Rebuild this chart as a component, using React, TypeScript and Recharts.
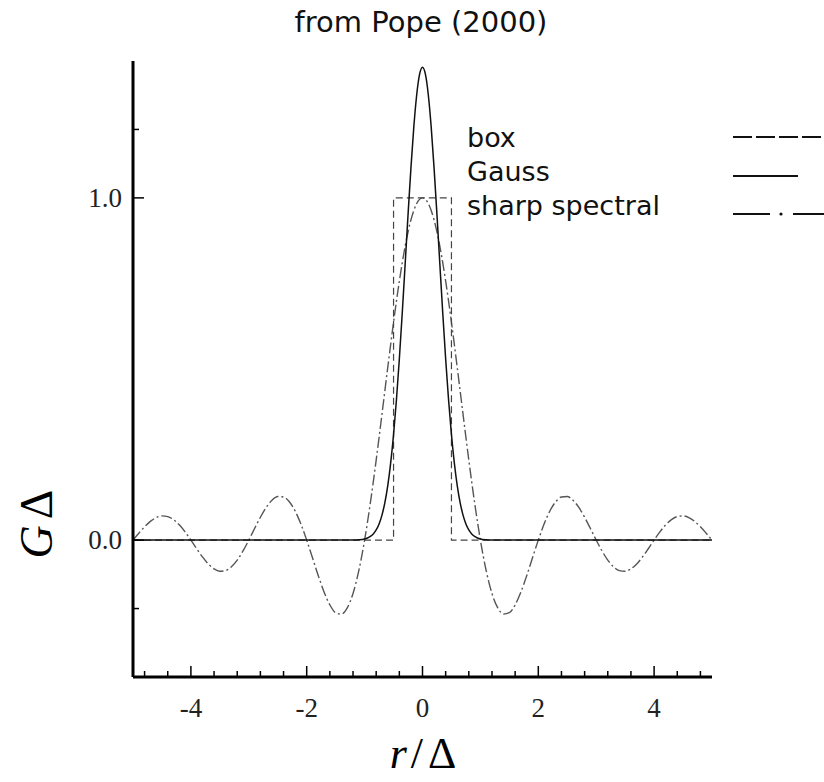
import React from "react";
import { LineChart, Line, XAxis, YAxis } from "recharts";

const titleText = "from Pope (2000)";
const legendLabels = ["box", "Gauss", "sharp spectral"];

const xTicks = [-4.8, -4.4, -4, -3.6, -3.2, -2.8, -2.4, -2, -1.6, -1.2, -0.8, -0.4, 0, 0.4, 0.8, 1.2, 1.6, 2, 2.4, 2.8, 3.2, 3.6, 4, 4.4, 4.8];
const xMajor = [-4, -2, 0, 2, 4];
const yTicks = [-0.2, 0, 1, 1.2];
const yMajor = [0, 1];

// box filter
const boxX = [-5, -0.5, -0.5, 0.5, 0.5, 5];
const boxY = [0, 0, 1, 1, 0, 0];

// Gaussian filter
const gaussX = [-5, -1.2, -1.1, -1.0, -0.95, -0.9, -0.85, -0.8, -0.75, -0.7, -0.65, -0.6, -0.55, -0.5, -0.45, -0.4, -0.35, -0.3, -0.25, -0.2, -0.15, -0.1, -0.05, 0,
  0.05, 0.1, 0.15, 0.2, 0.25, 0.3, 0.35, 0.4, 0.45, 0.5, 0.55, 0.6, 0.65, 0.7, 0.75, 0.8, 0.85, 0.9, 0.95, 1.0, 1.1, 1.2, 5];
const gaussY = [0, 0.0002, 0.001, 0.0034, 0.0062, 0.0107, 0.0181, 0.0297, 0.0473, 0.0731, 0.1096, 0.1594, 0.225, 0.3084, 0.41, 0.5292, 0.6627, 0.8054, 0.9498, 1.0871, 1.2075, 1.3015, 1.3614, 1.382,
  1.3614, 1.3015, 1.2075, 1.0871, 0.9498, 0.8054, 0.6627, 0.5292, 0.41, 0.3084, 0.225, 0.1594, 0.1096, 0.0731, 0.0473, 0.0297, 0.0181, 0.0107, 0.0062, 0.0034, 0.001, 0.0002, 0];

// sharp spectral filter
const sharpX = [-5, -4.9, -4.8, -4.7, -4.6, -4.5, -4.4, -4.3, -4.2, -4.1, -4, -3.9, -3.8, -3.7, -3.6, -3.5, -3.4, -3.3, -3.2, -3.1, -3, -2.9, -2.8, -2.7, -2.6, -2.5, -2.4, -2.3, -2.2, -2.1, -2, -1.9, -1.8, -1.7, -1.6, -1.5, -1.4, -1.3, -1.2, -1.1, -1, -0.9, -0.8, -0.7, -0.6, -0.5, -0.4, -0.3, -0.2, -0.1, 0,
  0.1, 0.2, 0.3, 0.4, 0.5, 0.6, 0.7, 0.8, 0.9, 1, 1.1, 1.2, 1.3, 1.4, 1.5, 1.6, 1.7, 1.8, 1.9, 2, 2.1, 2.2, 2.3, 2.4, 2.5, 2.6, 2.7, 2.8, 2.9, 3, 3.1, 3.2, 3.3, 3.4, 3.5, 3.6, 3.7, 3.8, 3.9, 4, 4.1, 4.2, 4.3, 4.4, 4.5, 4.6, 4.7, 4.8, 4.9, 5];
const sharpY = [0, 0.0201, 0.039, 0.0548, 0.0658, 0.0707, 0.0688, 0.0599, 0.0446, 0.024, 0, -0.0252, -0.0492, -0.0696, -0.0841, -0.0909, -0.089, -0.078, -0.0585, -0.0317, 0, 0.0339, 0.0668, 0.0954, 0.1164, 0.1273, 0.1261, 0.112, 0.0851, 0.0468, 0, -0.0518, -0.1039, -0.1515, -0.1892, -0.2122, -0.2162, -0.1981, -0.1559, -0.0894, 0, 0.1093, 0.2339, 0.3679, 0.5046, 0.6366, 0.7568, 0.8584, 0.9355, 0.9836, 1,
  0.9836, 0.9355, 0.8584, 0.7568, 0.6366, 0.5046, 0.3679, 0.2339, 0.1093, 0, -0.0894, -0.1559, -0.1981, -0.2162, -0.2122, -0.1892, -0.1515, -0.1039, -0.0518, 0, 0.0468, 0.0851, 0.112, 0.1261, 0.1273, 0.1164, 0.0954, 0.0668, 0.0339, 0, -0.0317, -0.0585, -0.078, -0.089, -0.0909, -0.0841, -0.0696, -0.0492, -0.0252, 0, 0.024, 0.0446, 0.0599, 0.0688, 0.0707, 0.0658, 0.0548, 0.039, 0.0201, 0];

const zip = (xs: number[], ys: number[]) => xs.map((x, i) => ({ x, y: ys[i] }));
const boxData = zip(boxX, boxY);
const gaussData = zip(gaussX, gaussY);
const sharpData = zip(sharpX, sharpY);

const serif = "'Liberation Serif', 'Times New Roman', serif";
const sans = "'DejaVu Sans', sans-serif";

const isMajor = (v: number, list: number[]) => list.some((m) => Math.abs(m - v) < 1e-6);

const XTick = (props: any) => {
  const { x, y, payload } = props;
  const major = isMajor(payload.value, xMajor);
  return (
    <g>
      <line x1={x} y1={y} x2={x} y2={y - (major ? 11 : 6)} stroke="#000" strokeWidth={1.5} />
      {major && (
        <text x={x} y={y + 40} textAnchor="middle" fontFamily={serif} fontSize={27} fill="#222">
          {String(payload.value)}
        </text>
      )}
    </g>
  );
};

const YTick = (props: any) => {
  const { x, y, payload } = props;
  const major = isMajor(payload.value, yMajor);
  return (
    <g>
      <line x1={x} y1={y} x2={x + (major ? 11 : 6)} y2={y} stroke="#000" strokeWidth={1.5} />
      {major && (
        <text x={x - 11} y={y + 9} textAnchor="end" fontFamily={serif} fontSize={27} fill="#222">
          {payload.value.toFixed(1)}
        </text>
      )}
    </g>
  );
};

export default function App() {
  return (
    <div style={{ position: "absolute", left: 0, top: 0, width: 824, height: 782, background: "#fff" }}>
      <LineChart width={824} height={782} margin={{ top: 61, right: 112, bottom: 65, left: 73 }}>
        <XAxis
          dataKey="x"
          type="number"
          domain={[-5, 5]}
          ticks={xTicks}
          interval={0}
          allowDataOverflow
          height={40}
          tickSize={0}
          tickMargin={0}
          tickLine={false}
          axisLine={{ stroke: "#000", strokeWidth: 3 }}
          tick={<XTick />}
        />
        <YAxis
          type="number"
          domain={[-0.4, 1.4]}
          ticks={yTicks}
          interval={0}
          allowDataOverflow
          width={60}
          tickSize={0}
          tickMargin={0}
          tickLine={false}
          axisLine={{ stroke: "#000", strokeWidth: 3 }}
          tick={<YTick />}
        />
        <Line data={sharpData} dataKey="y" type="monotone" stroke="#555" strokeWidth={1.4} strokeDasharray="11 3 2 3" dot={false} isAnimationActive={false} />
        <Line data={boxData} dataKey="y" type="linear" stroke="#444" strokeWidth={1.2} strokeDasharray="7 4" dot={false} isAnimationActive={false} />
        <Line data={gaussData} dataKey="y" type="monotone" stroke="#111" strokeWidth={1.5} dot={false} isAnimationActive={false} />
      </LineChart>
      <svg width={824} height={782} style={{ position: "absolute", left: 0, top: 0, pointerEvents: "none" }}>
        <text x={421} y={32} textAnchor="middle" fontFamily={sans} fontSize={29} fill="#111">{titleText}</text>
        <text x={467} y={147} fontFamily={sans} fontSize={27} fill="#111">{legendLabels[0]}</text>
        <text x={467} y={181} fontFamily={sans} fontSize={27} fill="#111">{legendLabels[1]}</text>
        <text x={467} y={215} fontFamily={sans} fontSize={27} fill="#111">{legendLabels[2]}</text>
        <line x1={733} y1={137} x2={824} y2={137} stroke="#111" strokeWidth={2} strokeDasharray="19 4" />
        <line x1={733} y1={176} x2={798} y2={176} stroke="#111" strokeWidth={2} />
        <line x1={733} y1={214} x2={770} y2={214} stroke="#111" strokeWidth={2} />
        <circle cx={781} cy={214} r={1.6} fill="#111" />
        <line x1={793} y1={214} x2={824} y2={214} stroke="#111" strokeWidth={2} />
        <text transform="translate(52,524) rotate(-90)" textAnchor="middle" fontFamily={serif} fontSize={46} fill="#000">
          <tspan fontStyle="italic">G</tspan>
          <tspan dx={6}>Δ</tspan>
        </text>
        <text x={423} y={768} textAnchor="middle" fontFamily={serif} fontSize={44} fill="#000">
          <tspan fontStyle="italic">r</tspan>
          <tspan dx={4}>/</tspan>
          <tspan dx={5}>Δ</tspan>
        </text>
      </svg>
    </div>
  );
}
